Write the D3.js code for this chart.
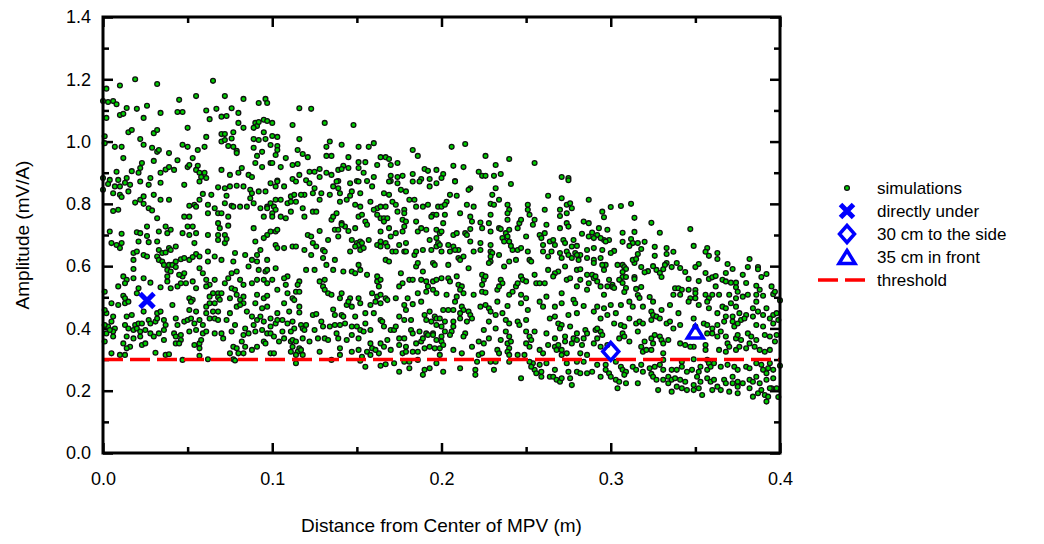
<!DOCTYPE html>
<html lang="en">
<head>
<meta charset="UTF-8">
<title>Amplitude vs distance</title>
<script src="https://cdn.jsdelivr.net/npm/d3@7"></script>
<style>
  body { margin: 0; background: #fff; }
  svg text { font-family: "Liberation Sans", Arial, sans-serif; fill: #000; }
</style>
</head>
<body>
<svg class="chart"></svg>
<script>
  // ---- data ----
  const xTicks = [0, 0.1, 0.2, 0.3, 0.4];
  const xMinor = [0.05, 0.15, 0.25, 0.35];
  const yTicks = [0, 0.2, 0.4, 0.6, 0.8, 1.0, 1.2, 1.4];
  const yMinor = [0.1, 0.3, 0.5, 0.7, 0.9, 1.1, 1.3];
  const threshold = 0.3;
  const directlyUnder = [[0.026, 0.49]];
  const toTheSide = [[0.300, 0.326]];
  const inFront = [[0.350, 0.39]];
  const legendLabels = ["simulations", "directly under", "30 cm to the side", "35 cm in front", "threshold"];

  // simulation points [distance (m), amplitude (mV/A)]
  const simulations = [
    [.019,1.20],[.010,1.18],[.032,1.185],[.065,1.195],[.002,1.17],[.000,1.13],[.003,1.127],[.006,1.13],[.008,1.12],[.014,1.108],
    [.020,1.105],[.026,1.115],[.045,1.134],[.055,1.146],[.072,1.146],[.083,1.137],[.092,1.124],[.096,1.137],[.097,1.124],[.002,1.076],
    [.010,1.085],[.012,1.089],[.024,1.076],[.034,1.092],[.044,1.095],[.047,1.095],[.061,1.10],[.067,1.105],[.063,1.072],[.070,1.08],
    [.073,1.082],[.076,1.107],[.080,1.092],[.080,1.06],[.083,1.044],[.090,1.06],[.091,1.05],[.092,1.063],[.095,1.07],[.097,1.066],
    [.095,1.03],[.089,1.044],[.015,1.03],[.017,1.037],[.030,1.027],[.032,1.037],[.050,1.044],[.061,1.015],[.070,1.024],[.072,1.024],
    [.077,1.03],[.070,1.0],[.072,1.005],[.076,1.01],[.089,1.008],[.092,1.005],[.096,1.008],[.001,1.017],[.001,.995],[.007,.983],
    [.011,.983],[.022,1.008],[.024,.99],[.029,.98],[.032,.967],[.033,.973],[.047,.99],[.050,.983],[.039,.963],[.056,.973],
    [.060,.983],[.074,.986],[.077,.983],[.079,.97],[.079,.963],[.089,.98],[.094,.967],[.091,.954],[.099,.989],[.012,.947],
    [.030,.938],[.023,.931],[.022,.915],[.021,.90],[.017,.905],[.008,.903],[.000,.883],[.004,.877],[.009,.877],[.014,.883],
    [.028,.883],[.034,.90],[.037,.91],[.039,.918],[.042,.909],[.044,.94],[.050,.918],[.051,.925],[.053,.947],[.056,.922],
    [.055,.909],[.057,.90],[.058,.886],[.060,.90],[.061,.883],[.070,.909],[.075,.893],[.080,.90],[.082,.915],[.086,.893],
    [.088,.886],[.090,.931],[.094,.918],[.099,.931],
    [.116,1.107],[.123,1.105],[.131,1.06],[.148,1.053],[.100,1.06],[.112,1.053],[.100,1.018],[.103,1.015],[.116,1.008],[.134,1.0],
    [.132,.983],[.141,.99],[.151,.983],[.157,.983],[.160,.995],[.183,.973],[.186,.954],[.103,.986],[.103,.973],[.102,.957],
    [.108,.947],[.115,.973],[.118,.96],[.121,.95],[.132,.954],[.135,.954],[.145,.95],[.151,.934],[.155,.934],[.151,.915],
    [.164,.95],[.167,.95],[.169,.944],[.162,.925],[.170,.925],[.174,.931],[.100,.931],[.105,.918],[.112,.925],[.115,.928],
    [.122,.903],[.125,.903],[.128,.912],[.132,.90],[.135,.893],[.139,.909],[.142,.922],[.141,.912],[.145,.915],[.154,.90],
    [.170,.89],[.174,.886],[.177,.89],[.183,.896],[.190,.912],[.192,.906],[.197,.909],[.103,.875],[.112,.88],[.116,.893],
    [.120,.876],[.128,.886],[.139,.873],[.150,.873],[.156,.873],[.160,.886],[.170,.873],[.188,.88],[.193,.88],
    [.206,.983],[.214,.992],[.226,.954],[.240,.944],[.255,.931],[.207,.922],[.213,.918],[.232,.925],[.222,.903],[.224,.89],
    [.226,.89],[.231,.89],[.235,.896],[.201,.896],[.200,.883],[.208,.873],[.271,.886],[.275,.883],
    // x 0.0 - 0.1, y 0.49 - 0.88
    [.000,.845],[.003,.864],[.007,.856],[.010,.856],[.013,.868],[.016,.861],[.022,.872],[.027,.861],[.034,.868],[.048,.861],
    [.057,.872],[.068,.853],[.072,.850],[.075,.856],[.079,.858],[.083,.856],[.087,.845],[.092,.840],[.096,.840],[.099,.866],
    [.006,.834],[.010,.829],[.015,.840],[.011,.822],[.019,.804],[.022,.813],[.024,.824],[.030,.829],[.034,.813],[.039,.813],
    [.051,.794],[.054,.797],[.057,.813],[.059,.832],[.064,.829],[.072,.802],[.073,.826],[.076,.794],[.081,.791],[.087,.818],
    [.089,.802],[.093,.786],[.097,.791],[.088,.834],[.006,.777],[.009,.781],[.024,.800],[.027,.786],[.029,.779],[.048,.759],
    [.051,.759],[.055,.791],[.062,.797],[.062,.770],[.066,.786],[.068,.770],[.070,.770],[.074,.759],[.077,.791],[.085,.791],
    [.095,.759],[.097,.786],[.026,.727],[.032,.754],[.037,.727],[.040,.717],[.038,.706],[.050,.727],[.053,.727],[.068,.738],
    [.069,.722],[.074,.730],[.089,.722],[.004,.711],[.011,.704],[.020,.709],[.022,.706],[.026,.697],[.033,.711],[.047,.706],
    [.051,.700],[.055,.706],[.062,.700],[.068,.700],[.072,.700],[.099,.711],[.005,.674],[.008,.668],[.011,.674],[.021,.679],
    [.027,.677],[.032,.679],[.039,.658],[.043,.663],[.054,.674],[.068,.684],[.072,.674],[.073,.687],[.090,.679],[.097,.700],
    [.095,.690],[.010,.658],[.018,.642],[.020,.647],[.024,.636],[.026,.631],[.033,.652],[.035,.642],[.037,.644],[.040,.652],
    [.046,.622],[.048,.626],[.055,.639],[.057,.631],[.062,.647],[.066,.631],[.078,.642],[.084,.636],[.088,.620],[.091,.636],
    [.093,.652],[.097,.620],[.018,.620],[.032,.631],[.033,.620],[.035,.615],[.036,.604],[.039,.604],[.041,.604],[.043,.615],
    [.051,.620],[.053,.629],[.062,.615],[.070,.620],[.077,.615],[.086,.599],[.091,.615],[.018,.591],[.038,.588],[.040,.583],
    [.043,.597],[.047,.567],[.048,.577],[.057,.593],[.059,.577],[.079,.583],[.076,.577],[.092,.588],[.096,.583],[.097,.588],
    [.012,.567],[.014,.556],[.013,.545],[.018,.561],[.024,.561],[.028,.547],[.038,.567],[.038,.551],[.045,.572],[.049,.545],
    [.053,.551],[.055,.529],[.061,.556],[.063,.540],[.066,.556],[.072,.545],[.074,.561],[.076,.529],[.078,.524],[.081,.556],
    [.083,.540],[.088,.545],[.091,.556],[.095,.556],[.097,.545],[.009,.535],[.034,.532],[.040,.529],[.044,.535],[.046,.545],
    [.061,.535],[.065,.513],[.068,.513],[.070,.513],[.079,.508],[.083,.502],[.091,.508],[.095,.497],[.097,.505],[.012,.505],
    [.021,.529],[.020,.513],[.013,.497],[.051,.497],[.053,.492],[.063,.502],[.068,.500],[.069,.492],[.075,.497],[.081,.492],
    [.001,.518],
    // x 0.1 - 0.2, y 0.49 - 0.88
    [.102,.856],[.107,.856],[.103,.872],[.114,.872],[.122,.866],[.125,.850],[.129,.834],[.136,.856],[.138,.872],[.139,.850],
    [.146,.866],[.147,.840],[.151,.872],[.152,.834],[.159,.856],[.169,.872],[.174,.866],[.176,.845],[.179,.840],[.183,.872],
    [.187,.872],[.193,.856],[.197,.866],[.166,.834],[.169,.829],[.134,.829],[.140,.834],[.119,.829],[.111,.824],[.113,.829],
    [.117,.829],[.124,.834],[.099,.802],[.102,.813],[.105,.813],[.109,.802],[.111,.807],[.114,.807],[.118,.786],[.124,.775],
    [.126,.775],[.128,.813],[.140,.807],[.144,.813],[.146,.826],[.149,.797],[.152,.791],[.158,.807],[.162,.786],[.164,.791],
    [.167,.791],[.171,.807],[.173,.797],[.174,.775],[.178,.781],[.181,.813],[.184,.813],[.185,.791],[.189,.791],[.192,.797],
    [.195,.765],[.198,.791],[.101,.791],[.102,.781],[.100,.770],[.100,.759],[.105,.759],[.108,.754],[.111,.775],[.119,.759],
    [.135,.749],[.136,.759],[.138,.770],[.141,.738],[.143,.727],[.151,.759],[.153,.765],[.155,.743],[.156,.733],[.160,.781],
    [.162,.765],[.164,.754],[.166,.754],[.168,.754],[.166,.743],[.177,.749],[.178,.770],[.179,.743],[.185,.743],[.194,.759],
    [.197,.765],[.102,.711],[.103,.717],[.121,.700],[.123,.695],[.128,.713],[.133,.684],[.137,.717],[.139,.717],[.139,.695],
    [.141,.733],[.145,.713],[.147,.684],[.149,.722],[.150,.674],[.152,.679],[.151,.668],[.153,.674],[.157,.684],[.164,.679],
    [.164,.711],[.169,.722],[.170,.695],[.173,.706],[.177,.711],[.178,.727],[.186,.711],[.188,.722],[.191,.717],[.197,.717],
    [.199,.706],[.193,.684],[.197,.690],[.167,.674],[.175,.668],[.179,.674],[.102,.668],[.103,.658],[.107,.658],[.112,.663],
    [.114,.663],[.119,.652],[.124,.674],[.126,.663],[.123,.636],[.130,.652],[.131,.647],[.130,.626],[.137,.620],[.146,.647],
    [.149,.663],[.152,.652],[.154,.658],[.162,.668],[.164,.663],[.168,.663],[.171,.647],[.173,.647],[.178,.647],[.179,.647],
    [.184,.636],[.185,.647],[.189,.652],[.194,.652],[.197,.663],[.198,.674],[.167,.620],[.169,.615],[.185,.599],[.186,.610],
    [.189,.583],[.195,.610],[.196,.604],[.102,.593],[.109,.567],[.120,.588],[.125,.588],[.132,.604],[.136,.588],[.142,.583],
    [.147,.583],[.151,.604],[.152,.588],[.156,.572],[.162,.567],[.162,.551],[.164,.556],[.176,.577],[.181,.556],[.188,.556],
    [.191,.551],[.195,.551],[.197,.556],[.149,.577],[.131,.556],[.128,.551],[.116,.551],[.107,.561],[.100,.556],[.103,.524],
    [.108,.540],[.109,.513],[.114,.518],[.115,.540],[.116,.518],[.112,.497],[.130,.535],[.131,.524],[.133,.513],[.135,.508],
    [.140,.497],[.141,.513],[.146,.497],[.151,.497],[.159,.513],[.162,.502],[.164,.508],[.163,.535],[.167,.497],[.173,.497],
    [.175,.535],[.177,.545],[.180,.497],[.183,.556],[.186,.513],[.191,.518],[.195,.524],[.197,.513],[.192,.535],
    // x 0.2 - 0.3, y 0.49 - 0.88
    [.208,.872],[.217,.850],[.216,.845],[.232,.850],[.230,.829],[.241,.864],[.205,.829],[.209,.826],[.263,.826],[.271,.818],
    [.275,.876],[.287,.813],[.200,.791],[.203,.807],[.202,.797],[.215,.797],[.211,.770],[.219,.791],[.229,.800],[.231,.797],
    [.234,.813],[.239,.797],[.240,.781],[.239,.770],[.251,.797],[.251,.781],[.252,.765],[.261,.781],[.270,.781],[.274,.797],
    [.276,.802],[.277,.786],[.270,.761],[.274,.770],[.295,.775],[.296,.757],[.202,.765],[.201,.738],[.217,.759],[.218,.743],
    [.223,.740],[.229,.765],[.228,.738],[.224,.722],[.217,.719],[.207,.700],[.209,.706],[.200,.711],[.214,.706],[.215,.700],
    [.229,.711],[.234,.722],[.235,.719],[.238,.706],[.240,.717],[.239,.695],[.236,.690],[.239,.749],[.245,.722],[.246,.738],
    [.247,.749],[.255,.749],[.254,.733],[.250,.695],[.258,.700],[.262,.733],[.261,.706],[.259,.690],[.270,.722],[.274,.738],
    [.275,.727],[.284,.743],[.287,.738],[.289,.708],[.283,.704],[.292,.700],[.293,.722],[.298,.717],[.299,.684],[.296,.684],
    [.297,.679],[.294,.690],[.290,.690],[.287,.695],[.199,.668],[.204,.668],[.207,.663],[.210,.652],[.208,.652],[.205,.647],
    [.200,.647],[.217,.679],[.219,.647],[.223,.674],[.223,.652],[.229,.668],[.237,.679],[.240,.679],[.242,.652],[.245,.652],
    [.247,.658],[.241,.665],[.251,.647],[.260,.668],[.264,.679],[.266,.684],[.267,.668],[.272,.684],[.273,.674],[.270,.642],
    [.274,.647],[.277,.663],[.278,.684],[.280,.665],[.279,.642],[.282,.636],[.286,.652],[.290,.658],[.295,.652],[.265,.647],
    [.260,.647],[.229,.647],[.210,.626],[.211,.620],[.213,.631],[.230,.642],[.229,.631],[.229,.615],[.228,.610],[.234,.636],
    [.237,.599],[.240,.615],[.244,.620],[.252,.620],[.253,.615],[.263,.631],[.271,.626],[.275,.636],[.277,.626],[.280,.636],
    [.281,.620],[.286,.626],[.290,.620],[.290,.610],[.294,.626],[.296,.588],[.297,.604],[.204,.604],[.216,.593],[.224,.572],
    [.225,.556],[.226,.567],[.273,.599],[.269,.583],[.263,.588],[.267,.577],[.280,.588],[.282,.590],[.286,.572],[.289,.572],
    [.290,.561],[.291,.567],[.295,.604],[.200,.561],[.204,.561],[.205,.551],[.209,.567],[.210,.540],[.212,.535],[.211,.524],
    [.213,.513],[.203,.508],[.209,.502],[.219,.508],[.224,.540],[.224,.518],[.226,.515],[.233,.524],[.235,.556],[.236,.545],
    [.234,.535],[.240,.508],[.242,.518],[.244,.535],[.245,.545],[.247,.567],[.247,.508],[.248,.556],[.250,.551],[.250,.497],
    [.255,.572],[.256,.545],[.258,.545],[.261,.545],[.262,.502],[.266,.567],[.271,.513],[.274,.556],[.276,.561],[.278,.492],
    [.282,.556],[.280,.535],[.286,.524],[.287,.545],[.292,.551],[.294,.535],[.296,.508],[.298,.535],[.299,.556],
    // x 0.3 - 0.4, y 0.49 - 0.88
    [.312,.80],[.306,.793],[.300,.79],[.314,.755],[.324,.739],[.329,.707],[.347,.719],[.307,.707],[.307,.678],[.314,.71],
    [.312,.687],[.313,.674],[.311,.665],[.316,.674],[.320,.678],[.302,.649],[.300,.642],[.318,.655],[.316,.639],[.326,.662],
    [.326,.633],[.333,.658],[.333,.639],[.337,.646],[.349,.665],[.357,.658],[.356,.646],[.358,.633],[.363,.642],[.363,.623],
    [.382,.623],[.369,.607],[.372,.591],[.381,.597],[.387,.597],[.387,.590],[.392,.575],[.389,.565],[.378,.572],[.380,.546],
    [.368,.578],[.352,.607],[.350,.597],[.356,.578],[.358,.559],[.360,.564],[.362,.568],[.366,.556],[.352,.552],[.346,.559],
    [.344,.581],[.341,.594],[.336,.597],[.339,.61],[.333,.61],[.332,.604],[.327,.588],[.329,.578],[.330,.565],[.331,.590],
    [.325,.60],[.322,.584],[.320,.580],[.318,.597],[.314,.61],[.313,.62],[.315,.623],[.307,.604],[.308,.597],[.309,.591],
    [.304,.604],[.307,.581],[.307,.565],[.309,.565],[.314,.565],[.314,.559],[.305,.556],[.307,.546],[.301,.54],[.301,.533],
    [.302,.53],[.309,.53],[.308,.517],[.315,.527],[.318,.533],[.316,.507],[.317,.498],[.323,.501],[.350,.523],[.338,.529],
    [.337,.508],[.340,.529],[.342,.524],[.346,.524],[.341,.508],[.347,.497],[.350,.513],[.350,.497],[.356,.508],[.358,.497],
    [.360,.508],[.364,.508],[.362,.535],[.368,.551],[.371,.547],[.374,.547],[.374,.532],[.375,.518],[.370,.508],[.374,.497],
    [.378,.502],[.381,.508],[.386,.537],[.388,.524],[.386,.508],[.390,.505],[.395,.535],[.396,.510],[.397,.518],[.400,.49],
    // x 0.0 - 0.1, y below 0.49
    [.005,.481],[.009,.475],[.013,.481],[.015,.486],[.002,.449],[.001,.459],[.024,.454],[.032,.449],[.034,.454],[.041,.475],
    [.051,.459],[.052,.486],[.055,.454],[.061,.470],[.063,.481],[.066,.481],[.065,.454],[.068,.454],[.075,.449],[.079,.470],
    [.083,.481],[.081,.475],[.085,.454],[.090,.481],[.094,.465],[.097,.470],[.006,.438],[.005,.422],[.014,.438],[.017,.443],
    [.013,.411],[.019,.411],[.021,.416],[.023,.416],[.027,.427],[.028,.416],[.031,.422],[.032,.432],[.036,.427],[.037,.411],
    [.043,.432],[.044,.411],[.048,.422],[.050,.427],[.052,.432],[.054,.416],[.057,.427],[.059,.411],[.061,.449],[.063,.432],
    [.066,.432],[.068,.427],[.073,.427],[.078,.411],[.084,.400],[.088,.438],[.089,.411],[.091,.427],[.093,.438],[.095,.422],
    [.099,.432],[.003,.406],[.001,.411],[.007,.400],[.006,.390],[.006,.374],[.002,.384],[.004,.395],[.015,.400],[.018,.395],
    [.020,.400],[.022,.390],[.025,.395],[.022,.374],[.018,.368],[.028,.384],[.030,.374],[.033,.384],[.036,.395],[.042,.384],
    [.043,.374],[.046,.379],[.046,.363],[.051,.390],[.055,.395],[.059,.384],[.061,.390],[.066,.384],[.070,.384],[.071,.368],
    [.076,.390],[.083,.379],[.086,.384],[.090,.390],[.094,.395],[.097,.384],[.095,.358],[.014,.374],[.001,.358],[.012,.352],
    [.016,.341],[.014,.336],[.023,.347],[.025,.352],[.036,.363],[.043,.352],[.045,.352],[.054,.347],[.057,.352],[.057,.336],
    [.058,.363],[.077,.341],[.079,.336],[.082,.358],[.084,.341],[.088,.331],[.091,.341],[.096,.352],[.099,.320],[.005,.320],
    [.010,.315],[.013,.315],[.031,.322],[.037,.315],[.039,.317],[.075,.320],[.080,.320],[.083,.320],[.047,.299],[.057,.312],
    [.062,.301],[.077,.301],[.078,.297],
    // x 0.1 - 0.2, y below 0.49
    [.107,.481],[.113,.491],[.116,.470],[.136,.461],[.144,.475],[.145,.486],[.147,.470],[.152,.481],[.158,.475],[.161,.486],
    [.164,.481],[.168,.491],[.178,.475],[.179,.459],[.183,.478],[.188,.486],[.190,.443],[.193,.454],[.196,.438],[.103,.449],
    [.110,.454],[.116,.451],[.124,.443],[.126,.446],[.137,.443],[.141,.443],[.142,.438],[.149,.438],[.155,.449],[.160,.449],
    [.164,.427],[.175,.438],[.178,.427],[.182,.427],[.191,.427],[.197,.432],[.099,.406],[.102,.416],[.103,.427],[.106,.427],
    [.109,.416],[.112,.422],[.113,.400],[.117,.411],[.118,.400],[.119,.395],[.120,.411],[.129,.422],[.130,.406],[.134,.406],
    [.137,.411],[.140,.411],[.143,.416],[.147,.406],[.150,.406],[.152,.395],[.155,.416],[.158,.395],[.165,.422],[.166,.406],
    [.170,.395],[.172,.395],[.173,.406],[.182,.395],[.183,.384],[.187,.390],[.191,.384],[.194,.422],[.195,.384],[.197,.411],
    [.199,.432],[.106,.390],[.111,.390],[.099,.384],[.101,.374],[.104,.358],[.107,.368],[.111,.358],[.112,.363],[.114,.358],
    [.118,.368],[.122,.358],[.125,.395],[.127,.368],[.131,.368],[.133,.363],[.138,.384],[.139,.368],[.144,.363],[.147,.379],
    [.151,.368],[.154,.390],[.158,.352],[.164,.352],[.166,.341],[.168,.363],[.175,.368],[.178,.368],[.179,.341],[.185,.352],
    [.188,.358],[.189,.368],[.192,.379],[.195,.379],[.197,.363],[.199,.336],[.112,.341],[.116,.336],[.101,.320],[.111,.325],
    [.115,.325],[.117,.331],[.114,.315],[.118,.315],[.128,.325],[.135,.299],[.140,.315],[.140,.336],[.147,.325],[.151,.331],
    [.156,.325],[.159,.336],[.153,.309],[.152,.296],[.158,.315],[.163,.320],[.161,.331],[.170,.331],[.175,.347],[.177,.320],
    [.179,.325],[.183,.325],[.186,.325],[.190,.336],[.193,.341],[.196,.336],[.178,.293],[.181,.293],[.114,.288],[.155,.277],
    [.164,.280],[.167,.285],[.172,.288],[.175,.261],[.181,.272],[.186,.299],[.190,.267],[.189,.251],[.193,.272],[.197,.288],
    [.199,.315],
    // x 0.2 - 0.3, y below 0.49
    [.208,.486],[.212,.470],[.213,.459],[.223,.470],[.226,.475],[.228,.465],[.233,.486],[.239,.472],[.247,.481],[.251,.459],
    [.258,.486],[.260,.470],[.267,.470],[.271,.481],[.279,.481],[.284,.472],[.292,.470],[.296,.465],[.204,.459],[.201,.459],
    [.207,.459],[.211,.449],[.216,.454],[.229,.454],[.236,.449],[.202,.422],[.207,.422],[.207,.406],[.211,.432],[.215,.422],
    [.217,.443],[.218,.432],[.228,.422],[.232,.443],[.238,.427],[.240,.416],[.245,.422],[.246,.411],[.250,.427],[.264,.432],
    [.267,.438],[.269,.416],[.271,.411],[.270,.400],[.275,.443],[.280,.449],[.290,.454],[.294,.432],[.298,.443],[.200,.406],
    [.202,.390],[.206,.390],[.205,.379],[.214,.384],[.225,.395],[.232,.400],[.238,.390],[.240,.374],[.250,.390],[.255,.390],
    [.262,.384],[.267,.368],[.273,.374],[.276,.406],[.280,.384],[.285,.395],[.286,.384],[.291,.395],[.294,.390],[.295,.379],
    [.292,.400],[.200,.374],[.213,.374],[.200,.358],[.201,.347],[.218,.341],[.222,.358],[.225,.352],[.228,.368],[.235,.363],
    [.239,.352],[.241,.358],[.240,.336],[.250,.352],[.252,.374],[.253,.363],[.252,.341],[.258,.331],[.263,.347],[.267,.341],
    [.269,.347],[.268,.331],[.271,.331],[.273,.358],[.277,.352],[.278,.368],[.280,.363],[.283,.347],[.284,.368],[.290,.352],
    [.292,.368],[.294,.341],[.298,.347],[.207,.331],[.212,.320],[.222,.315],[.224,.320],[.233,.331],[.234,.320],[.239,.325],
    [.240,.315],[.249,.315],[.245,.315],[.260,.320],[.271,.315],[.274,.320],[.282,.320],[.286,.315],[.221,.293],[.229,.293],
    [.232,.293],[.240,.293],[.254,.288],[.255,.267],[.258,.283],[.256,.256],[.259,.245],[.259,.261],[.262,.288],[.264,.245],
    [.266,.245],[.267,.267],[.268,.235],[.270,.229],[.271,.240],[.275,.261],[.276,.240],[.277,.218],[.280,.293],[.280,.261],
    [.282,.256],[.284,.293],[.286,.256],[.289,.261],[.292,.283],[.294,.245],[.297,.283],[.297,.267],[.299,.256],[.300,.245],
    [.201,.261],[.211,.272],[.220,.267],[.220,.251],[.231,.267],[.247,.240],[.252,.293],[.253,.277],[.274,.288],
    // x 0.3 - 0.4, y below 0.49
    [.300,.475],[.306,.475],[.311,.486],[.313,.470],[.319,.470],[.325,.486],[.324,.454],[.330,.459],[.335,.475],[.340,.449],
    [.346,.486],[.352,.475],[.357,.486],[.358,.465],[.363,.449],[.366,.470],[.368,.465],[.371,.481],[.374,.470],[.376,.449],
    [.380,.443],[.384,.465],[.386,.486],[.387,.454],[.390,.443],[.392,.465],[.396,.443],[.398,.449],[.303,.449],[.302,.416],
    [.306,.411],[.308,.406],[.311,.432],[.315,.416],[.317,.422],[.319,.416],[.324,.427],[.325,.443],[.327,.438],[.329,.432],
    [.333,.416],[.335,.422],[.337,.400],[.341,.411],[.349,.432],[.350,.406],[.355,.416],[.357,.411],[.360,.400],[.363,.411],
    [.367,.422],[.368,.438],[.372,.438],[.372,.422],[.373,.406],[.375,.416],[.377,.427],[.379,.432],[.384,.438],[.386,.411],
    [.390,.406],[.394,.432],[.396,.416],[.399,.427],[.307,.384],[.308,.374],[.305,.368],[.311,.358],[.316,.390],[.320,.358],
    [.324,.368],[.326,.379],[.329,.374],[.330,.363],[.325,.352],[.331,.352],[.334,.363],[.341,.352],[.344,.347],[.349,.341],
    [.357,.384],[.360,.384],[.363,.374],[.365,.390],[.368,.374],[.369,.352],[.374,.368],[.375,.379],[.377,.363],[.381,.384],
    [.383,.374],[.382,.352],[.386,.363],[.391,.379],[.394,.374],[.397,.358],[.398,.379],[.356,.347],[.370,.341],[.318,.341],
    [.319,.325],[.321,.331],[.324,.331],[.331,.320],[.347,.341],[.356,.331],[.364,.331],[.368,.325],[.374,.331],[.376,.341],
    [.380,.336],[.385,.341],[.388,.331],[.391,.325],[.394,.331],[.349,.301],[.331,.299],[.342,.293],[.357,.299],[.358,.288],
    [.303,.293],[.306,.277],[.307,.267],[.309,.261],[.308,.251],[.313,.277],[.315,.267],[.318,.283],[.319,.261],[.323,.272],
    [.324,.254],[.326,.277],[.329,.283],[.331,.267],[.336,.267],[.334,.245],[.339,.267],[.342,.277],[.345,.261],[.348,.267],
    [.352,.261],[.353,.277],[.357,.267],[.359,.277],[.361,.288],[.365,.277],[.369,.283],[.373,.277],[.375,.267],[.380,.277],
    [.382,.272],[.386,.288],[.389,.283],[.390,.267],[.393,.272],[.396,.267],[.394,.288],[.392,.256],[.303,.235],[.305,.229],
    [.309,.224],[.316,.224],[.325,.245],[.327,.235],[.331,.235],[.334,.224],[.336,.235],[.338,.240],[.341,.235],[.344,.229],
    [.351,.245],[.349,.218],[.353,.229],[.357,.240],[.359,.229],[.361,.235],[.363,.213],[.367,.235],[.368,.224],[.372,.224],
    [.372,.245],[.375,.229],[.375,.213],[.378,.224],[.382,.235],[.384,.229],[.386,.245],[.388,.224],[.392,.235],[.395,.208],
    [.396,.240],[.304,.208],[.328,.202],[.336,.197],[.339,.213],[.342,.208],[.345,.202],[.349,.202],[.352,.208],[.354,.186],
    [.360,.202],[.365,.202],[.370,.197],[.375,.192],[.382,.208],[.384,.181],[.387,.192],[.389,.202],[.391,.186],[.392,.165],
    [.393,.181],[.394,.208],[.398,.208],[.399,.18],[.400,.28]
  ];

  // ---- layout ----
  const svgWidth = 1044;
  const svgHeight = 544;
  const plot = { left: 103, right: 780, top: 17, bottom: 453 };

  const svg = d3.select(".chart")
    .attr("width", svgWidth)
    .attr("height", svgHeight);

  const x = d3.scaleLinear().domain([0, 0.4]).range([plot.left, plot.right]);
  const y = d3.scaleLinear().domain([0, 1.4]).range([plot.bottom, plot.top]);
  const fmt = d3.format(".1f");
  const fontSize = 18;

  // axes with inward ticks on all four sides
  function styleAxis(g, width) {
    g.select(".domain").remove();
    g.selectAll(".tick line").attr("stroke", "#000").attr("stroke-width", width);
    g.selectAll(".tick text").attr("font-size", fontSize).attr("font-family", "Liberation Sans, Arial, sans-serif");
  }

  svg.append("g").attr("transform", `translate(0,${plot.bottom})`)
    .call(d3.axisBottom(x).tickValues(xTicks).tickSize(-10).tickPadding(19).tickFormat(fmt))
    .call(g => styleAxis(g, 2.5));
  svg.append("g").attr("transform", `translate(0,${plot.bottom})`)
    .call(d3.axisBottom(x).tickValues(xMinor).tickSize(-6).tickFormat(""))
    .call(g => styleAxis(g, 2.5));
  svg.append("g").attr("transform", `translate(0,${plot.top})`)
    .call(d3.axisTop(x).tickValues(xTicks).tickSize(-10).tickFormat(""))
    .call(g => styleAxis(g, 2.5));
  svg.append("g").attr("transform", `translate(0,${plot.top})`)
    .call(d3.axisTop(x).tickValues(xMinor).tickSize(-6).tickFormat(""))
    .call(g => styleAxis(g, 2.5));

  svg.append("g").attr("transform", `translate(${plot.left},0)`)
    .call(d3.axisLeft(y).tickValues(yTicks).tickSize(-10).tickPadding(12).tickFormat(fmt))
    .call(g => styleAxis(g, 2.5));
  svg.append("g").attr("transform", `translate(${plot.left},0)`)
    .call(d3.axisLeft(y).tickValues(yMinor).tickSize(-6).tickFormat(""))
    .call(g => styleAxis(g, 2.5));
  svg.append("g").attr("transform", `translate(${plot.right},0)`)
    .call(d3.axisRight(y).tickValues(yTicks).tickSize(-10).tickFormat(""))
    .call(g => styleAxis(g, 2.5));
  svg.append("g").attr("transform", `translate(${plot.right},0)`)
    .call(d3.axisRight(y).tickValues(yMinor).tickSize(-6).tickFormat(""))
    .call(g => styleAxis(g, 2.5));

  // scatter
  const dots = svg.append("g");
  dots.selectAll("circle")
    .data(simulations)
    .join("circle")
    .attr("cx", d => x(d[0]))
    .attr("cy", d => y(d[1]))
    .attr("r", 2.4)
    .attr("fill", "#00d000")
    .attr("stroke", "#111")
    .attr("stroke-width", 1.3);

  // threshold line
  svg.append("line")
    .attr("x1", x(0)).attr("x2", x(0.4))
    .attr("y1", y(threshold)).attr("y2", y(threshold))
    .attr("stroke", "#ff0000")
    .attr("stroke-width", 3.5)
    .attr("stroke-dasharray", "20,7");

  // marker shapes
  const blue = "#0000ff";
  function drawCross(g, cx, cy, s) {
    g.append("path")
      .attr("d", `M${cx - s},${cy - s}L${cx + s},${cy + s}M${cx - s},${cy + s}L${cx + s},${cy - s}`)
      .attr("stroke", blue).attr("stroke-width", 5).attr("fill", "none");
  }
  function drawDiamond(g, cx, cy, w, h) {
    g.append("path")
      .attr("d", `M${cx},${cy - h}L${cx + w},${cy}L${cx},${cy + h}L${cx - w},${cy}Z`)
      .attr("stroke", blue).attr("stroke-width", 3.5).attr("fill", "none");
  }
  function drawTriangle(g, cx, cy, w, h) {
    g.append("path")
      .attr("d", `M${cx},${cy - h}L${cx + w},${cy + h}L${cx - w},${cy + h}Z`)
      .attr("stroke", blue).attr("stroke-width", 3.5).attr("fill", "none").attr("stroke-linejoin", "miter");
  }

  const marks = svg.append("g");
  directlyUnder.forEach(d => drawCross(marks, x(d[0]), y(d[1]), 7));
  toTheSide.forEach(d => drawDiamond(marks, x(d[0]), y(d[1]), 8, 9));
  inFront.forEach(d => drawTriangle(marks, x(d[0]), y(d[1]), 8, 6.5));

  // frame
  svg.append("rect")
    .attr("x", plot.left).attr("y", plot.top)
    .attr("width", plot.right - plot.left).attr("height", plot.bottom - plot.top)
    .attr("fill", "none").attr("stroke", "#000").attr("stroke-width", 3);

  // axis titles
  svg.append("text")
    .attr("x", (plot.left + plot.right) / 2).attr("y", 532)
    .attr("text-anchor", "middle").attr("font-size", 19)
    .text("Distance from Center of MPV (m)");
  svg.append("text")
    .attr("transform", `translate(29,${(plot.top + plot.bottom) / 2}) rotate(-90)`)
    .attr("text-anchor", "middle").attr("font-size", 19)
    .text("Amplitude (mV/A)");

  // legend
  const legend = svg.append("g");
  const lx = 847, ltx = 877, ly0 = 188, lstep = 23;
  legendLabels.forEach((label, i) => {
    legend.append("text")
      .attr("x", ltx).attr("y", ly0 + i * lstep)
      .attr("dy", "0.35em").attr("font-size", 17)
      .text(label);
  });
  legend.append("circle").attr("cx", lx).attr("cy", ly0).attr("r", 2.4)
    .attr("fill", "#00d000").attr("stroke", "#111").attr("stroke-width", 1.3);
  drawCross(legend, lx, ly0 + lstep, 6.5);
  drawDiamond(legend, lx, ly0 + 2 * lstep, 7.5, 8.5);
  drawTriangle(legend, lx, ly0 + 3 * lstep, 8, 6.5);
  legend.append("line")
    .attr("x1", 818).attr("x2", 866)
    .attr("y1", ly0 + 4 * lstep).attr("y2", ly0 + 4 * lstep)
    .attr("stroke", "#ff0000").attr("stroke-width", 3.5)
    .attr("stroke-dasharray", "20,7");
</script>
</body>
</html>
